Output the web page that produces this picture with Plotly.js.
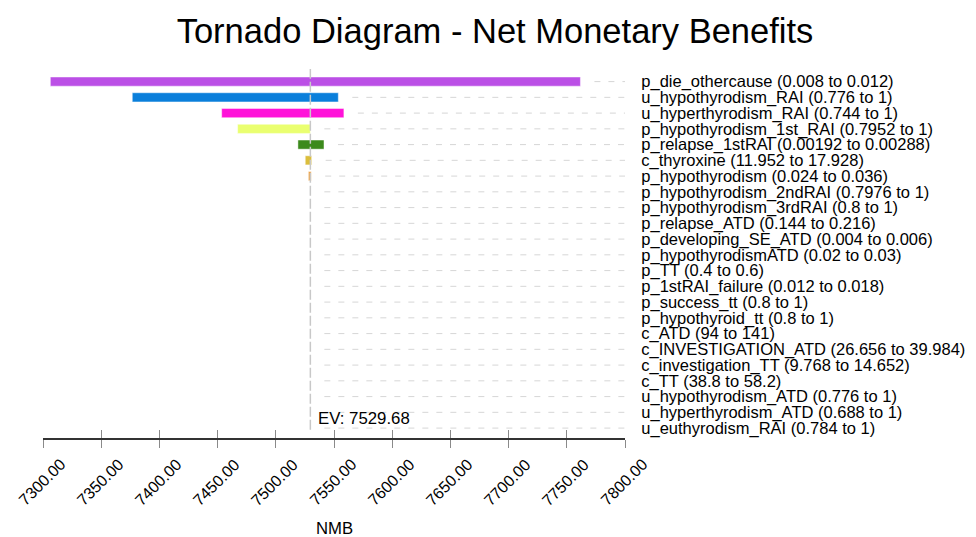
<!DOCTYPE html>
<html>
<head>
<meta charset="utf-8">
<script src="https://cdn.plot.ly/plotly-3.0.1.min.js"></script>
<style>html,body{margin:0;padding:0;background:#fff;}#chart{width:976px;height:537px;}</style>
</head>
<body>
<div id="chart"></div>
<script>
// ---- data ----
const params = ["p_die_othercause", "u_hypothyrodism_RAI", "u_hyperthyrodism_RAI", "p_hypothyrodism_1st_RAI",
  "p_relapse_1stRAI", "c_thyroxine", "p_hypothyrodism", "p_hypothyrodism_2ndRAI", "p_hypothyrodism_3rdRAI",
  "p_relapse_ATD", "p_developing_SE_ATD", "p_hypothyrodismATD", "p_TT", "p_1stRAI_failure", "p_success_tt",
  "p_hypothyroid_tt", "c_ATD", "c_INVESTIGATION_ATD", "c_investigation_TT", "c_TT", "u_hypothyrodism_ATD",
  "u_hyperthyrodism_ATD", "u_euthyrodism_RAI"];
const rangeLow = ["0.008", "0.776", "0.744", "0.7952", "0.00192", "11.952", "0.024", "0.7976", "0.8",
  "0.144", "0.004", "0.02", "0.4", "0.012", "0.8", "0.8", "94", "26.656", "9.768", "38.8", "0.776", "0.688", "0.784"];
const rangeHigh = ["0.012", "1", "1", "1", "0.00288", "17.928", "0.036", "1", "1",
  "0.216", "0.006", "0.03", "0.6", "0.018", "1", "1", "141", "39.984", "14.652", "58.2", "1", "1", "1"];
const EV = 7529.68;
const nmbLow = [7306.3, 7376.7, 7453.5, 7467.2, 7519.0, 7525.3, 7528.0, 7529.68, 7529.68, 7529.68, 7529.68,
  7529.68, 7529.68, 7529.68, 7529.68, 7529.68, 7529.68, 7529.68, 7529.68, 7529.68, 7529.68, 7529.68, 7529.68];
const nmbHigh = [7761.7, 7553.7, 7558.5, 7529.68, 7541.4, 7530.8, 7530.4, 7529.68, 7529.68, 7529.68, 7529.68,
  7529.68, 7529.68, 7529.68, 7529.68, 7529.68, 7529.68, 7529.68, 7529.68, 7529.68, 7529.68, 7529.68, 7529.68];
const barColors = ["#BB4FE6", "#0A7FDB", "#FF12D9", "#EAFF70", "#3C8A1C", "#DBBE3C", "#F2A23C",
  "#999999", "#999999", "#999999", "#999999", "#999999", "#999999", "#999999", "#999999", "#999999",
  "#999999", "#999999", "#999999", "#999999", "#999999", "#999999", "#999999"];
const tickVals = [7300, 7350, 7400, 7450, 7500, 7550, 7600, 7650, 7700, 7750, 7800];
const xMin = 7300, xMax = 7800;

// ---- build ----
const FONT = "Liberation Sans, Arial, sans-serif";
const labels = params.map((p, i) => p + " (" + rangeLow[i] + " to " + rangeHigh[i] + ")");

const bars = {
  type: "bar", orientation: "h",
  y: labels,
  base: nmbLow,
  x: nmbHigh.map((h, i) => h - nmbLow[i]),
  marker: { color: barColors, line: { color: "rgba(255,255,255,0.45)", width: 1 } },
  hoverinfo: "skip", showlegend: false
};

// dashed guide lines from bar end to the right edge
const gapUnits = 14 * (xMax - xMin) / 582;
const gx = [], gy = [];
labels.forEach((lab, i) => {
  gx.push(Math.max(nmbHigh[i], EV) + gapUnits, xMax, null);
  gy.push(lab, lab, null);
});
const guides = {
  type: "scatter", mode: "lines", x: gx, y: gy,
  line: { color: "#d6d6d6", width: 1, dash: "6px,8px" },
  hoverinfo: "skip", showlegend: false, connectgaps: false
};

// invisible trace to register the overlay axis carrying inner tick marks
const tickHelper = {
  type: "scatter", mode: "markers", x: [EV], y: [labels[0]], xaxis: "x2",
  marker: { opacity: 0 }, hoverinfo: "skip", showlegend: false
};

const annotations = tickVals.map(t => ({
  x: t, xref: "x", y: 0, yref: "paper", yshift: -44, xshift: -1.5,
  text: t.toFixed(2), showarrow: false, textangle: -45,
  xanchor: "center", yanchor: "middle",
  font: { family: FONT, size: 16, color: "#000" }
}));
annotations.push({
  x: 0.5, xref: "paper", y: 0, yref: "paper", yshift: -90.7,
  text: "NMB", showarrow: false, xanchor: "center", yanchor: "middle",
  font: { family: FONT, size: 16.7, color: "#000" }
});
annotations.push({
  x: EV, xref: "x", y: 0, yref: "paper", yshift: 19.3, xshift: 5.5,
  text: "EV: " + EV.toFixed(2), showarrow: false, xanchor: "left", yanchor: "middle",
  font: { family: FONT, size: 16.8, color: "#000" }
});

const layout = {
  width: 976, height: 537,
  margin: { l: 43, r: 351, t: 69, b: 99, pad: 0 },
  paper_bgcolor: "#fff", plot_bgcolor: "#fff",
  title: {
    text: "Tornado Diagram - Net Monetary Benefits",
    font: { family: FONT, size: 34.5, color: "#000" },
    x: 495 / 976, xanchor: "center", xref: "container",
    y: 1 - 31 / 537, yanchor: "middle", yref: "container"
  },
  bargap: 0.42,
  xaxis: {
    range: [xMin, xMax], tickvals: tickVals, showticklabels: false,
    ticks: "outside", ticklen: 8, tickwidth: 1, tickcolor: "#8a8a8a",
    showline: true, linecolor: "#333", linewidth: 2,
    showgrid: false, zeroline: false, fixedrange: true
  },
  xaxis2: {
    overlaying: "x", anchor: "y", side: "bottom", matches: "x",
    range: [xMin, xMax], tickvals: tickVals, showticklabels: false,
    ticks: "inside", ticklen: 8, tickwidth: 1, tickcolor: "#8a8a8a",
    showline: false, showgrid: false, zeroline: false
  },
  yaxis: {
    type: "category", categoryorder: "array", categoryarray: labels,
    tickmode: "array", tickvals: labels, ticktext: labels,
    range: [22.63, -0.8], side: "right",
    ticks: "outside", ticklen: 12, tickcolor: "rgba(0,0,0,0)",
    showline: false, showgrid: false, zeroline: false,
    tickfont: { family: FONT, size: 16.5, color: "#000" }
  },
  shapes: [{
    type: "line", xref: "x", x0: EV, x1: EV, yref: "paper", y0: 0.0225, y1: 1,
    line: { color: "#c8c8c8", width: 1.5, dash: "10px,3px" }, layer: "above"
  }],
  annotations: annotations,
  showlegend: false
};

Plotly.newPlot("chart", [guides, bars, tickHelper], layout, { displayModeBar: false, staticPlot: true });
</script>
</body>
</html>
